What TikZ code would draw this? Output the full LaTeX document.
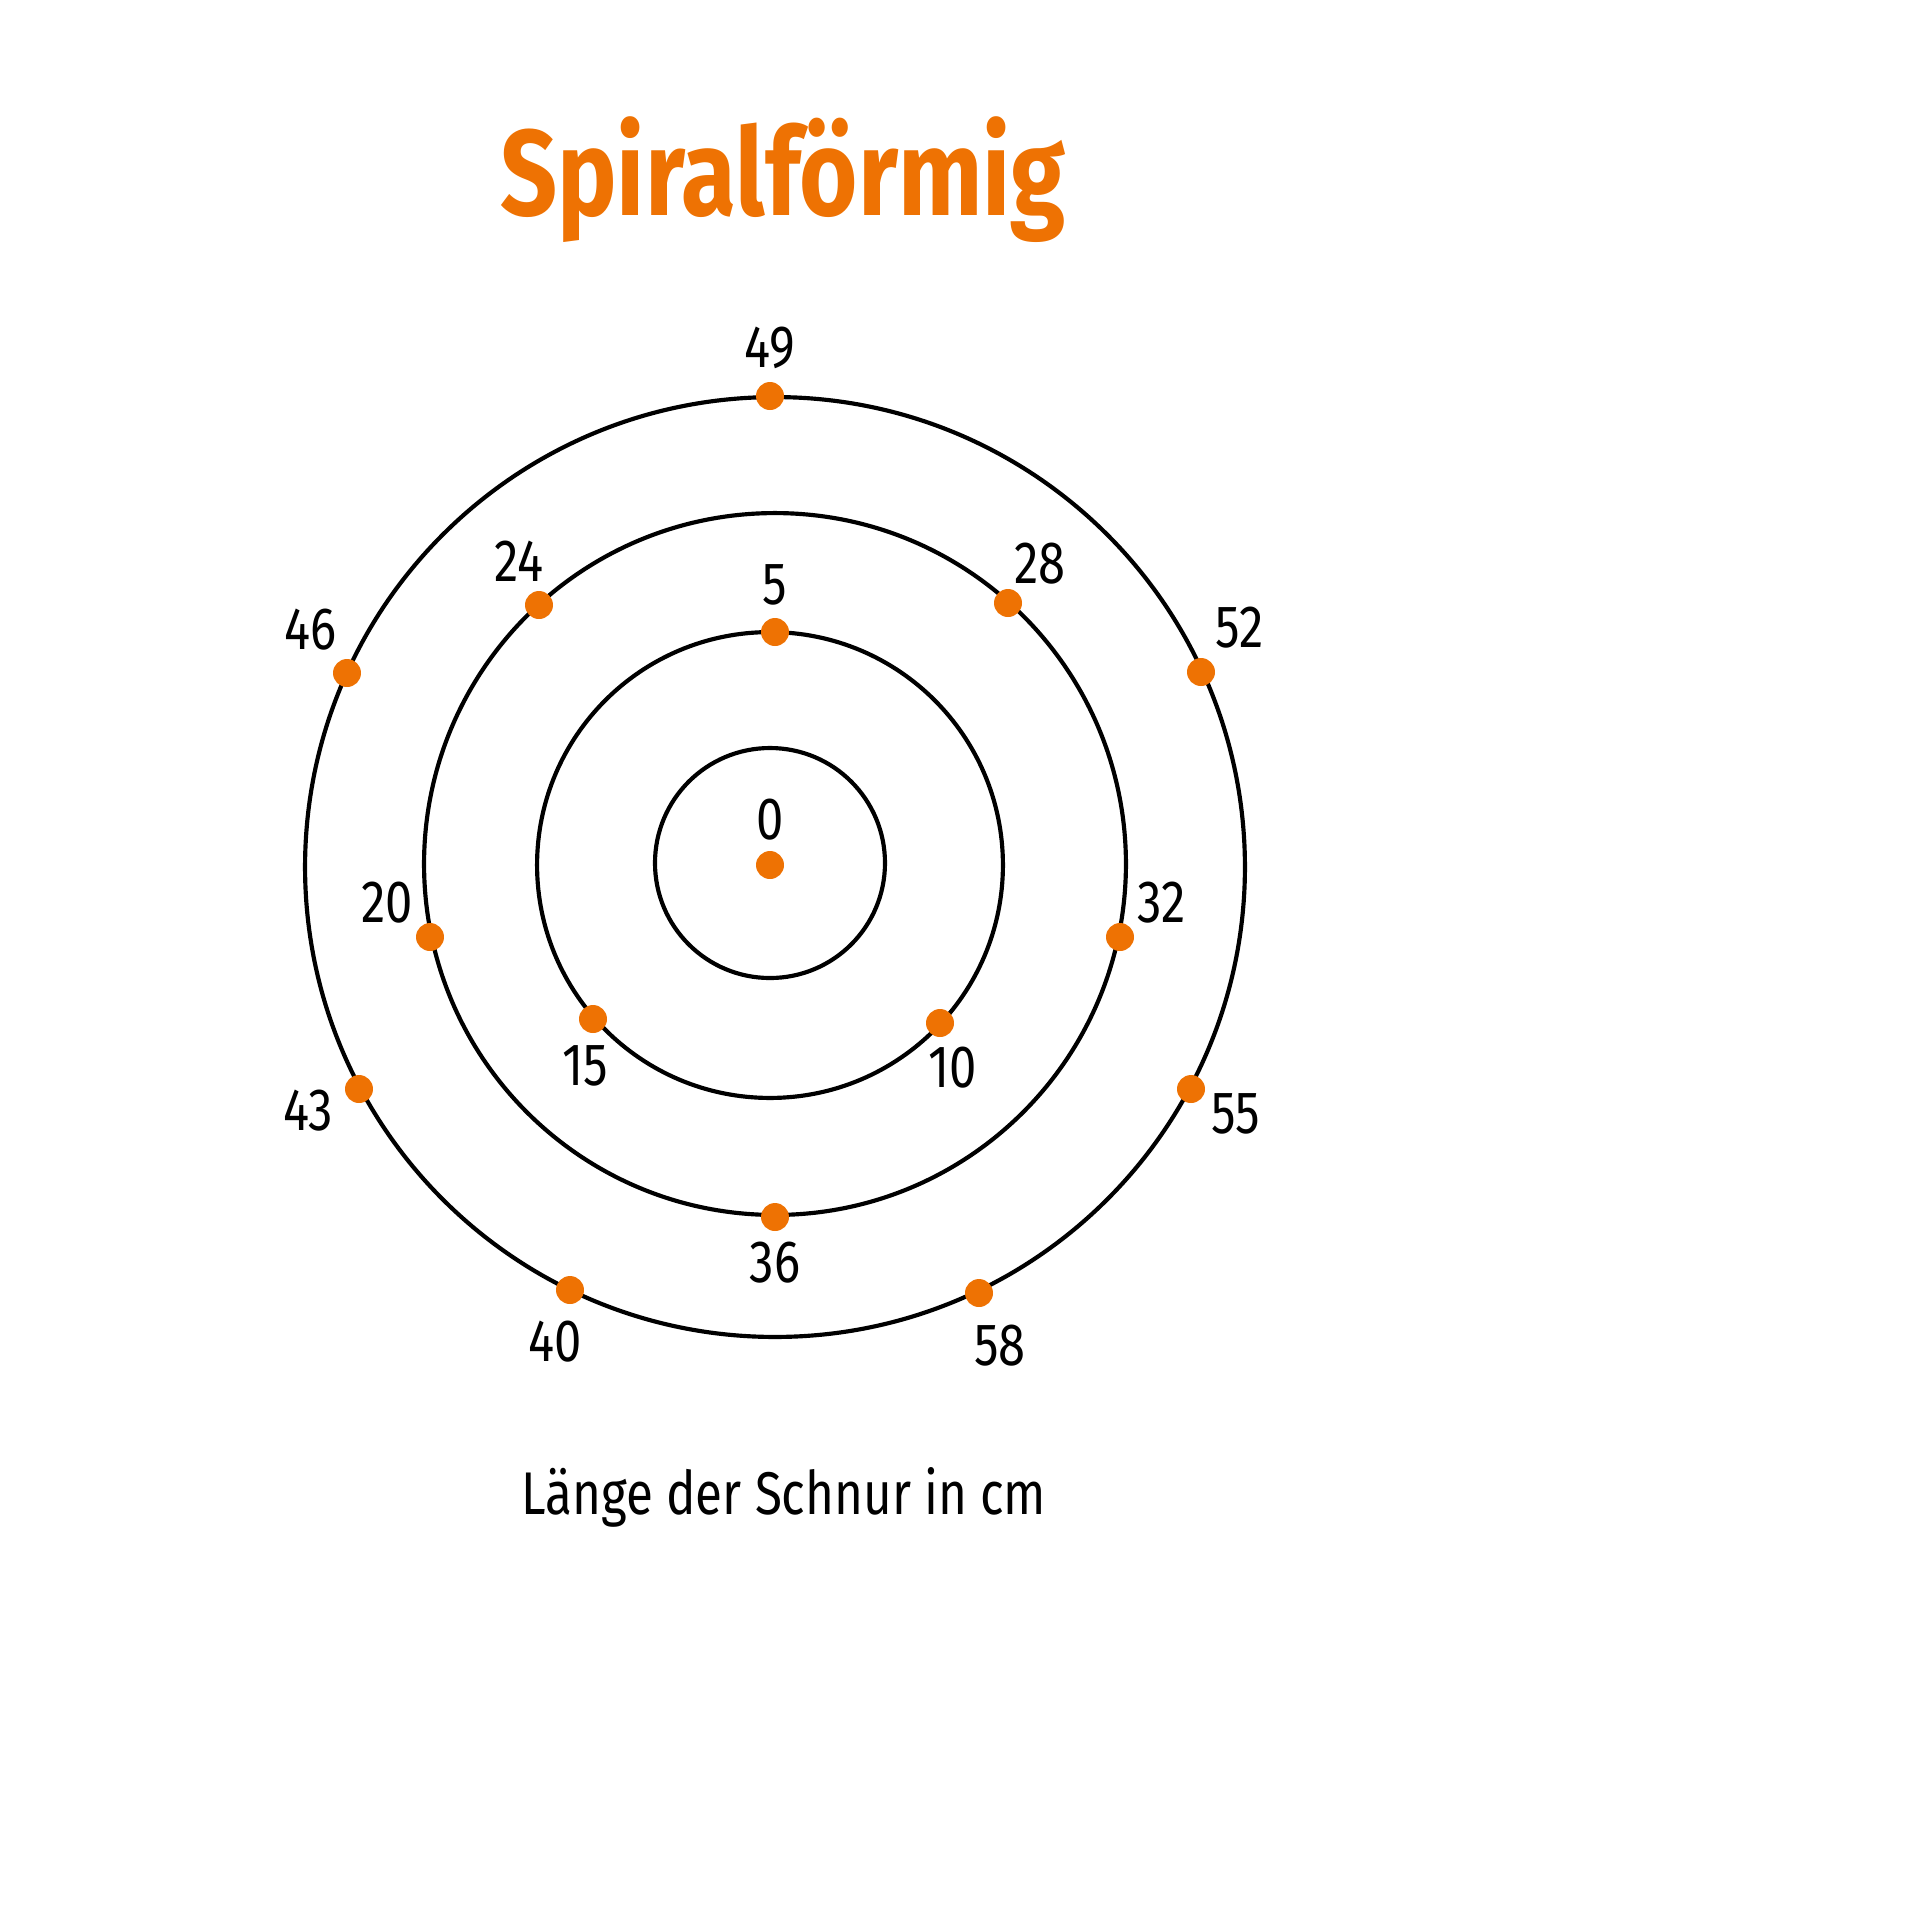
\documentclass[tikz,border=0pt]{standalone}
\usepackage{fontspec}
\setmainfont{Fira Sans}[FakeStretch=0.82]
\newfontfamily\titlefont{Fira Sans Bold}[FakeStretch=0.82]
\definecolor{orng}{HTML}{EE7203}
\begin{document}
\begin{tikzpicture}[x=0.01225cm,y=-0.01225cm,
  ring/.style={draw=black,line width=1.45pt},
  dotpt/.style={circle,fill=orng,minimum size=0.343cm,inner sep=0pt},
  lbl/.style={font=\fontsize{20.8}{24}\selectfont,text=black,inner sep=0pt}]
\draw[ring] (770,863) circle[radius=1.409cm];
\draw[ring] (770,865) circle[radius=2.854cm];
\draw[ring] (775,864) circle[radius=4.30cm];
\draw[ring] (775,867) circle[radius=5.758cm];
\foreach \n/\x/\y/\lx/\ly in {0/770/865/770/820, 5/775/632/775/585, 10/940/1023/953/1068,
  15/593/1019/585/1066, 20/430/937/387/903, 24/539/605/519/561, 28/1008/603/1040/564,
  32/1120/937/1162/903, 36/775/1217/775/1263, 40/570/1290/555/1342, 43/359/1089/308/1111,
  46/347/673/311/630, 49/770/396/770/348, 52/1201/672/1240/628, 55/1191/1089/1236/1114,
  58/979/1293/1000/1346}{
  \node[dotpt] (p\n) at (\x,\y) {};
  \node[lbl] (l\n) at (\lx,\ly) {\n};
}
\node[font=\titlefont\fontsize{42.5}{46}\selectfont,text=orng] (title) at (783,180) {Spiralförmig};
\node[font=\fontsize{21}{25}\selectfont] (cap) at (784,1497) {Länge der Schnur in cm};
\pgfresetboundingbox
\useasboundingbox (0,0) rectangle (1920,1920);
\end{tikzpicture}
\end{document}
